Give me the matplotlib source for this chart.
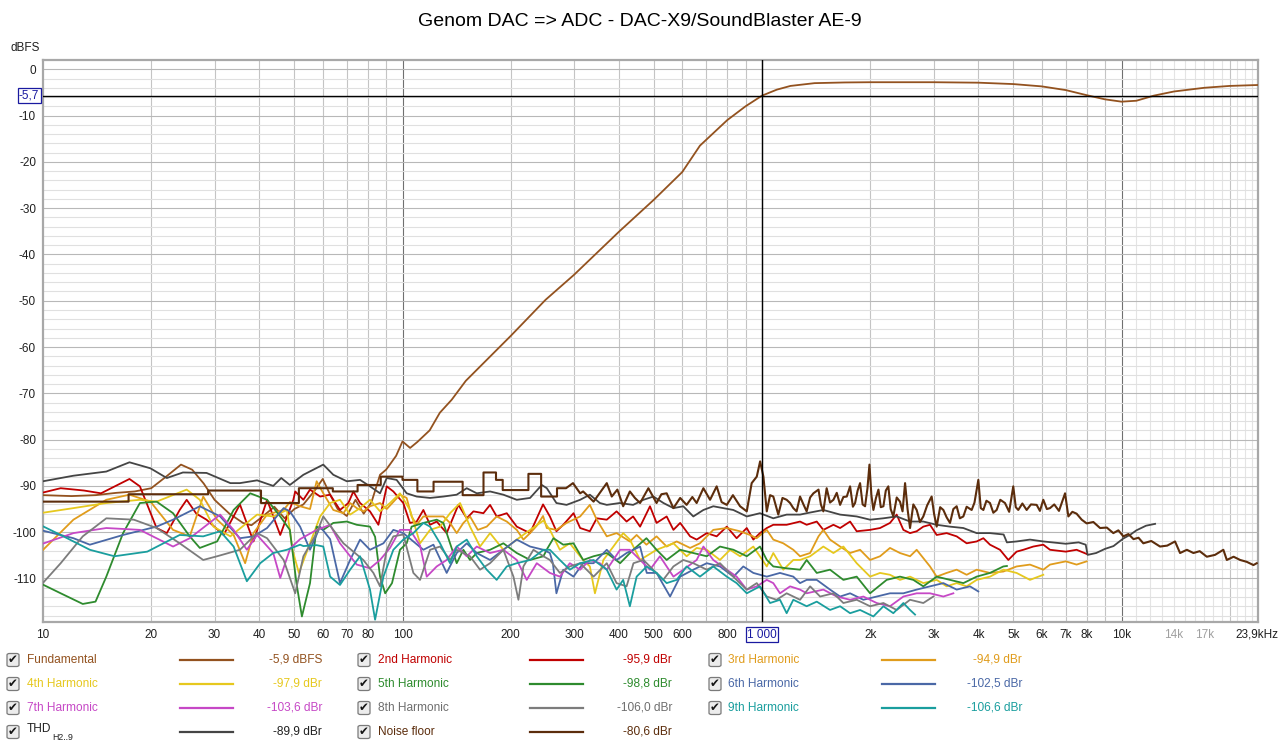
import numpy as np
import matplotlib.pyplot as plt
from matplotlib.lines import Line2D
from matplotlib.patches import FancyBboxPatch

plt.rcParams['font.family'] = ['Liberation Sans', 'DejaVu Sans']

W, H = 1280, 746

# ---- measured curves: (frequency Hz, level dB) ----
fund = [(10, -92.0), (12, -92.2), (14, -92.0), (16, -91.5), (18, -91.2), (20, -90.5), (22, -88.0),
        (24.2, -85.4), (26, -86.5), (28, -89.5), (30, -93.0), (33, -96.0), (36, -98.0), (38, -98.5),
        (41, -96.5), (44, -94.5), (47, -97.0), (50, -95.0), (53, -94.0), (57, -91.0), (60, -88.5),
        (63, -92.0), (66, -95.0), (70, -96.5), (74, -93.0), (78, -96.0), (82, -93.5), (86.6, -87.6),
        (90, -86.5), (92, -85.5), (96, -83.5), (100, -80.4), (105, -81.8), (110, -80.5), (119, -78.0),
        (127, -74.2), (137, -71.4), (150, -67.3), (200, -57.6), (250, -49.8), (300, -44.4), (400, -35.1),
        (500, -28.2), (600, -22.2), (672, -16.5), (800, -11.0), (900, -8.0), (1000, -5.7), (1100, -4.4),
        (1200, -3.6), (1400, -3.0), (1700, -2.85), (2000, -2.8), (3000, -2.8), (4000, -2.9), (5000, -3.2),
        (6000, -3.7), (7000, -4.5), (8000, -5.6), (9000, -6.5), (10000, -7.0), (11000, -6.8),
        (12300, -5.7), (14000, -4.8), (17000, -4.0), (20000, -3.6), (23970, -3.4)]

h2 = [(9.8, -91.6), (11.2, -90.5), (13.0, -91.0), (14.5, -91.6), (17.4, -88.5), (18.6, -90.1),
      (20.7, -99.1), (22.1, -100.2), (24, -95.2), (25.1, -93.0), (26.7, -96.0), (28.5, -97.3),
      (31.8, -100.6), (35.3, -94.0), (38.5, -102.0), (42, -93.0), (45.7, -100.6), (49.7, -93.0),
      (50.3, -91.2), (53, -93.0), (55.3, -90.8), (59, -92.3), (62.9, -91.9), (67, -95.2), (70.7, -93.7),
      (73, -91.2), (76.2, -93.7), (81.2, -95.5), (85.7, -98.4), (90.4, -90.1), (94.3, -91.2),
      (100.5, -93.7), (104.9, -98.0), (109.5, -97.7), (114.3, -95.2), (119.3, -98.4), (124.5, -97.7),
      (132.7, -100.2), (143, -94.1), (150.9, -97.0), (157.5, -95.5), (167.9, -95.9), (175.2, -94.1),
      (182.8, -96.6), (195, -95.9), (207.9, -98.8), (216.9, -99.5), (226.4, -100.2), (236.3, -97.0),
      (246, -94.0), (257, -96.6), (268, -99.8), (280, -98.4), (299, -95.9), (312, -99.1), (332, -99.8),
      (347, -97.0), (370, -97.3), (394, -95.5), (420, -97.7), (438, -96.6), (458, -98.8), (488, -94.4),
      (509, -98.0), (543, -96.6), (567, -99.5), (592, -98.0), (631, -100.9), (658, -101.6),
      (702, -100.2), (748, -100.9), (798, -98.8), (850, -101.3), (907, -99.1), (946, -101.6),
      (987, -100.2), (1031, -99.1), (1075, -98.4), (1171, -98.4), (1276, -97.7), (1331, -98.4),
      (1420, -97.7), (1481, -99.5), (1580, -98.4), (1649, -99.1), (1758, -97.7), (1834, -99.8),
      (1998, -99.5), (2130, -99.1), (2270, -98.0), (2369, -96.2), (2473, -99.5), (2581, -100.2),
      (2693, -99.8), (2810, -98.8), (2933, -98.4), (3061, -100.6), (3263, -100.2), (3479, -100.9),
      (3709, -102.4), (3955, -102.0), (4128, -101.3), (4307, -102.7), (4592, -103.8), (4844, -106.0),
      (5107, -104.2), (5332, -103.8), (5684, -103.1), (6060, -102.7), (6326, -103.8), (7000, -104.2),
      (7500, -103.8), (8000, -104.7)]

h3 = [(9.8, -104.5), (12.15, -97.3), (15, -93.0), (17.4, -91.9), (19.9, -93.4), (23, -99.5),
      (25.6, -100.9), (27.9, -92.3), (30.5, -97.3), (33.9, -100.6), (36.5, -106.7), (38.5, -100.2),
      (42, -96.2), (46.7, -95.2), (48.6, -93.5), (51.9, -94.4), (55.3, -95.0), (57.7, -89.0),
      (60.2, -91.6), (64.2, -95.2), (68.5, -95.9), (71.5, -93.7), (74.6, -94.8), (78, -95.5),
      (81.2, -94.4), (86.6, -93.7), (90.4, -95.0), (98.4, -91.9), (102.7, -92.6), (106, -96.6),
      (109.5, -98.4), (114.3, -96.6), (121.9, -96.6), (129.9, -96.6), (135.6, -98.0), (141.5, -100.2),
      (147.7, -98.0), (154.1, -96.6), (162, -99.5), (171.5, -98.8), (182.8, -96.6), (195, -97.7),
      (207.9, -99.5), (216.9, -101.6), (226.4, -100.2), (236.3, -98.6), (246, -96.5), (252, -99.1),
      (268, -99.5), (286, -98.0), (312, -96.6), (332, -94.1), (347, -97.3), (370, -100.9), (394, -100.2),
      (429, -102.0), (448, -100.6), (477, -102.7), (509, -100.9), (543, -103.1), (579, -102.0),
      (631, -103.4), (672, -102.4), (732, -99.5), (798, -99.1), (868, -99.8), (926, -100.6),
      (966, -101.3), (1031, -99.5), (1075, -101.6), (1146, -102.4), (1222, -103.8), (1276, -105.2),
      (1361, -104.5), (1436, -100.9), (1481, -99.5), (1546, -101.6), (1649, -103.1), (1758, -104.5),
      (1874, -103.8), (1998, -106.0), (2130, -105.2), (2270, -103.4), (2420, -104.5), (2581, -105.2),
      (2693, -103.8), (2933, -107.4), (3061, -109.6), (3263, -108.8), (3479, -108.1), (3709, -109.2),
      (3955, -108.1), (4307, -108.8), (4691, -108.5), (5107, -107.4), (5564, -107.0), (6060, -108.1),
      (6326, -107.0), (7000, -106.3), (7500, -107.0), (8000, -106.3)]

h4 = [(9.8, -95.9), (12.15, -94.8), (15, -93.7), (18.6, -93.0), (20.7, -93.4), (25.1, -90.8),
      (27.3, -93.0), (29.8, -98.8), (33.2, -100.9), (36.9, -98.0), (39.4, -96.2), (43.7, -96.6),
      (47.7, -95.2), (49.5, -104.0), (51.5, -108.8), (55.3, -102.4), (59, -96.6), (62.9, -93.7),
      (67, -93.0), (71.5, -96.2), (76.2, -94.8), (81.2, -93.0), (86.6, -95.5), (92.3, -93.7),
      (98.4, -91.6), (104.9, -95.2), (111.9, -102.4), (119.3, -99.5), (127.2, -98.8), (135.6, -95.9),
      (144.6, -93.7), (154.1, -98.8), (164.3, -103.1), (175.2, -100.2), (190.8, -103.8),
      (207.9, -101.6), (226.4, -99.5), (246.6, -97.5), (257, -99.5), (274, -103.8), (292, -102.4),
      (318, -106.0), (332, -107.4), (343, -113.2), (362, -106.0), (386, -103.1), (411, -100.2),
      (429, -101.6), (458, -106.0), (509, -103.8), (567, -102.4), (617, -105.2), (658, -103.4),
      (702, -103.8), (764, -106.0), (815, -103.8), (869, -105.2), (946, -103.1), (1031, -107.4),
      (1075, -104.5), (1146, -108.1), (1222, -106.0), (1276, -106.0), (1361, -105.2), (1481, -103.1),
      (1580, -104.5), (1684, -103.1), (1834, -106.7), (1998, -109.6), (2130, -108.8), (2270, -109.2),
      (2420, -110.3), (2581, -109.6), (2810, -111.0), (3061, -110.3), (3263, -111.7), (3479, -111.0),
      (3709, -111.7), (3955, -110.3), (4307, -109.6), (4691, -108.1), (5107, -108.8), (5564, -110.3),
      (6060, -109.2)]

h5 = [(9.8, -111.0), (11.2, -113.2), (12.9, -115.5), (14.0, -115.0), (15, -109.6), (16.7, -100.2),
      (18.6, -93.7), (20.7, -93.4), (23, -95.9), (25.6, -100.9), (27.3, -103.4), (30.5, -102.0),
      (33.9, -95.2), (37.7, -91.6), (42, -93.0), (45.7, -96.6), (48.6, -99.5), (50.7, -111.0),
      (52.5, -118.2), (55.3, -111.0), (57.7, -98.8), (60.2, -99.5), (64.2, -98.0), (70, -97.7),
      (74.6, -98.4), (81.2, -98.8), (83.9, -101.0), (86.6, -109.6), (89.5, -113.2), (93.5, -111.0),
      (98.4, -103.8), (102.7, -102.4), (106, -98.8), (114.3, -98.0), (124.5, -97.3), (129.9, -98.0),
      (135.6, -102.4), (141.5, -106.7), (147.7, -103.8), (154.1, -106.0), (160.9, -104.5),
      (175.2, -103.8), (190.8, -102.4), (207.9, -104.5), (226.4, -106.0), (246.6, -105.2),
      (253, -103.5), (263, -101.3), (280, -102.7), (299, -102.4), (318, -106.0), (340, -105.2),
      (370, -104.5), (403, -106.7), (438, -103.8), (477, -101.3), (509, -103.8), (543, -106.0),
      (592, -103.8), (644, -104.5), (702, -105.2), (764, -103.1), (833, -103.8), (907, -105.2),
      (987, -103.1), (1031, -106.0), (1075, -107.4), (1171, -107.8), (1276, -108.1), (1331, -106.0),
      (1420, -108.8), (1546, -108.1), (1684, -110.3), (1834, -109.6), (1998, -113.2), (2222, -110.3),
      (2420, -109.6), (2636, -110.3), (2810, -111.7), (3061, -109.6), (3334, -110.3), (3631, -111.0),
      (3955, -109.6), (4307, -108.8), (4691, -107.4), (4800, -107.3)]

h6 = [(9.8, -99.5), (12.15, -101.3), (13.5, -102.7), (16.7, -100.6), (20.7, -98.8), (23, -97.3),
      (27.3, -94.4), (31.1, -96.6), (35.3, -101.3), (38.5, -100.9), (42, -99.1), (46.7, -94.8),
      (48.6, -95.5), (51.9, -98.8), (55.3, -103.8), (59, -98.8), (62.9, -101.5), (67, -111.0),
      (71.5, -106.0), (76.2, -101.6), (81.2, -103.8), (88.5, -102.4), (94.3, -99.5), (100.5, -100.2),
      (107.2, -102.0), (114.3, -103.8), (121.9, -102.7), (132.7, -108.8), (141.5, -104.5),
      (150.9, -102.4), (160.9, -104.5), (175.2, -106.0), (190.8, -103.8), (207.9, -101.6),
      (226.4, -103.1), (246.6, -103.8), (257, -104.5), (262, -106.7), (268, -113.2), (280, -108.1),
      (299, -109.6), (318, -106.7), (340, -106.7), (370, -103.8), (394, -106.0), (420, -104.5),
      (458, -103.1), (478, -108.8), (509, -108.8), (555, -113.9), (592, -109.6), (644, -108.1),
      (702, -106.7), (764, -107.4), (833, -109.6), (887, -107.4), (946, -108.8), (1031, -109.6),
      (1122, -108.8), (1222, -109.6), (1276, -111.0), (1331, -110.3), (1420, -110.3), (1546, -112.4),
      (1649, -113.9), (1758, -113.2), (1914, -114.6), (2085, -113.9), (2270, -113.2), (2473, -113.2),
      (2693, -112.4), (2933, -111.7), (3195, -111.0), (3479, -112.4), (3789, -111.7), (3997, -112.8)]

h7 = [(9.8, -102.7), (12.15, -100.2), (15, -99.1), (18.6, -99.5), (23, -103.1), (25.6, -101.3),
      (31.1, -96.2), (33.9, -99.5), (36.9, -103.8), (39.4, -100.6), (43.7, -104.5), (45.7, -109.9),
      (48.7, -103.5), (51.9, -101.5), (57.7, -99.5), (62.9, -98.4), (67, -102.4), (74.6, -107.0),
      (81.2, -107.8), (86.6, -106.0), (92.3, -103.4), (98.4, -99.5), (104.9, -99.5), (111.9, -102.9),
      (116.8, -109.6), (124.5, -107.4), (132.7, -106.0), (141.5, -103.1), (150.9, -105.2),
      (160.9, -103.1), (175.2, -104.5), (190.8, -103.8), (207.9, -106.0), (221.6, -110.3),
      (236.3, -106.7), (257, -108.8), (274, -109.6), (292, -106.7), (312, -108.1), (332, -106.0),
      (354, -106.7), (370, -108.1), (403, -103.8), (429, -103.8), (458, -106.0), (488, -108.1),
      (520, -105.2), (567, -109.6), (604, -108.1), (658, -106.0), (687, -103.1), (732, -106.0),
      (798, -108.1), (850, -109.6), (907, -112.4), (967, -111.7), (1031, -110.3), (1075, -111.0),
      (1122, -113.2), (1197, -111.7), (1276, -112.4), (1331, -113.2), (1481, -112.4), (1614, -113.9),
      (1758, -114.6), (1914, -113.9), (2085, -115.3), (2270, -116.0), (2473, -113.9), (2693, -113.2),
      (2933, -113.2), (3195, -113.9), (3406, -113.2)]

h8 = [(9.8, -111.7), (11.2, -106.7), (12.9, -100.9), (15, -97.0), (17.9, -97.3), (20.7, -99.1),
      (24, -102.4), (27.9, -106.0), (30.5, -105.2), (35.3, -103.8), (39.4, -100.2), (42, -101.3),
      (46.7, -106.0), (50.3, -113.2), (53, -105.2), (57.7, -100.2), (60.2, -96.6), (64.2, -99.5),
      (68.5, -102.4), (73, -104.2), (77.8, -106.0), (83, -108.8), (86.6, -111.7), (90.4, -103.8),
      (94.3, -100.9), (100.5, -100.5), (107.2, -108.8), (111.9, -110.3), (119.3, -103.8),
      (127.2, -103.1), (135.6, -106.0), (141.5, -103.8), (154.1, -105.2), (164.3, -108.1),
      (175.2, -106.7), (190.8, -103.8), (203.5, -109.6), (210.1, -114.6), (216.9, -107.4),
      (231.3, -103.8), (246.6, -105.2), (257, -106.0), (274, -108.8), (292, -107.4), (312, -106.7),
      (340, -109.6), (370, -106.7), (394, -111.0), (420, -111.7), (439, -106.7), (468, -106.0),
      (498, -108.1), (531, -110.3), (567, -107.4), (604, -106.0), (644, -106.7), (702, -108.1),
      (764, -106.7), (832, -109.6), (868, -111.0), (907, -112.4), (967, -111.0), (1031, -113.9),
      (1098, -114.6), (1171, -113.2), (1276, -114.6), (1361, -111.7), (1451, -113.9), (1580, -113.2),
      (1684, -115.3), (1834, -114.6), (1998, -116.0), (2176, -115.3), (2369, -116.8), (2581, -114.6),
      (2810, -115.3), (2996, -113.9)]

h9 = [(9.8, -98.4), (11.2, -100.6), (13.5, -103.8), (15.8, -105.2), (19.5, -104.2), (24, -100.6),
      (27.9, -100.9), (31.1, -99.8), (33.9, -103.1), (36.9, -110.6), (40.2, -106.7), (43.7, -104.5),
      (47.7, -103.8), (51.9, -102.7), (53, -103.0), (57.7, -102.8), (60.2, -103.1), (62.9, -109.6),
      (67, -111.4), (71.5, -108.1), (76.2, -105.2), (81.2, -112.4), (83.9, -118.9), (88.5, -109.6),
      (94.3, -103.8), (100.5, -101.6), (107.2, -100.2), (114.3, -98.0), (119.3, -98.8),
      (127.2, -102.4), (135.6, -106.7), (141.5, -103.1), (150.9, -101.6), (160.9, -105.2),
      (171.5, -108.1), (182.8, -110.3), (195, -107.4), (207.9, -106.7), (226.4, -106.0),
      (246.6, -103.8), (257, -103.8), (274, -106.0), (292, -108.1), (312, -106.7), (340, -106.0),
      (370, -108.1), (394, -112.4), (411, -110.3), (429, -116.0), (448, -109.6), (478, -107.4),
      (509, -108.8), (543, -111.0), (579, -110.3), (617, -107.4), (672, -109.6), (732, -107.4),
      (798, -109.6), (850, -111.0), (907, -113.2), (987, -111.7), (1053, -115.3), (1122, -114.6),
      (1171, -117.5), (1222, -114.6), (1276, -115.3), (1331, -116.0), (1420, -115.0), (1546, -116.8),
      (1649, -116.0), (1758, -117.5), (1874, -116.8), (2041, -118.2), (2176, -116.0), (2319, -117.5),
      (2473, -115.3), (2581, -116.8), (2665, -117.8)]

thd = [(10, -89.0), (12.15, -87.8), (15.0, -86.9), (17.4, -84.9), (19.9, -86.2), (22.1, -88.3),
       (24.5, -87.1), (28.5, -87.2), (33.2, -89.4), (35.3, -89.4), (39.4, -88.8), (43.7, -90.0),
       (46, -88.3), (48.6, -89.8), (53, -87.6), (60.2, -85.4), (64.2, -87.6), (70, -89.0),
       (76.2, -88.7), (81.2, -90.1), (86.6, -91.6), (90.4, -88.3), (96.3, -88.7), (102.7, -91.6),
       (109.5, -92.3), (119.3, -92.6), (129.9, -92.3), (141.5, -91.9), (150.9, -90.5), (160.9, -91.6),
       (175.2, -91.2), (190.8, -91.9), (207.9, -93.0), (226.4, -92.6), (244, -89.8), (252, -90.5),
       (268, -93.7), (286, -94.1), (312, -93.0), (332, -91.9), (354, -93.7), (370, -94.1),
       (402, -93.7), (438, -94.1), (468, -93.0), (499, -92.3), (532, -93.7), (567, -94.8),
       (604, -94.4), (644, -96.6), (687, -95.2), (732, -94.4), (780, -94.8), (832, -95.2),
       (907, -96.6), (987, -95.9), (1075, -97.0), (1171, -96.2), (1276, -96.2), (1331, -95.9),
       (1481, -95.2), (1649, -96.2), (1834, -96.6), (1998, -97.3), (2176, -97.0), (2369, -96.6),
       (2581, -97.7), (2810, -97.7), (3061, -98.4), (3334, -98.8), (3631, -99.1), (3955, -100.2),
       (4307, -100.2), (4700, -100.5), (4800, -102.2), (5107, -102.0), (5564, -101.6), (6060, -102.0),
       (7000, -102.5), (7600, -102.2), (7950, -102.7), (8050, -104.9), (8500, -104.5), (9000, -103.6),
       (9500, -103.0), (10100, -101.4), (10600, -100.5), (11000, -99.6), (11700, -98.6),
       (12400, -98.2)]

noise = [(10, -93.4), (17.3, -93.4), (17.3, -91.8), (28.8, -91.8), (28.8, -91.0), (40.4, -91.0),
         (40.4, -93.7), (51.5, -93.7), (51.5, -90.5), (64, -90.5), (64, -91.2), (75, -91.2),
         (75, -89.8), (87, -89.8), (87, -88.0), (100, -88.0), (100, -88.7), (110, -88.7),
         (110, -91.2), (122, -91.2), (122, -89.1), (147, -89.1), (147, -92.0), (168, -92.0),
         (168, -87.1), (182, -87.1), (182, -88.7), (190, -88.7), (190, -90.9), (224, -90.9),
         (224, -87.4), (243, -87.4), (243, -92.3), (269, -92.3), (269, -90.5), (285, -90.5),
         (298, -89.4), (312, -91.6), (318, -91.2), (340, -93.4), (370, -89.4), (382, -92.3),
         (396, -90.8), (411, -94.4), (429, -91.2), (443, -92.6), (458, -93.7), (483, -90.5),
         (509, -93.7), (525, -91.8), (543, -91.6), (567, -94.8), (592, -92.6), (617, -94.1),
         (640, -92.4), (658, -93.7), (687, -90.5), (717, -93.0), (748, -90.1), (772, -93.5),
         (798, -94.1), (830, -92.0), (869, -94.4), (907, -95.5), (936, -89.4), (967, -88.0),
         (988, -84.7), (1009, -88.0), (1031, -95.5), (1053, -92.0), (1075, -92.3), (1110, -96.2),
         (1140, -92.6), (1171, -93.0), (1197, -93.7), (1222, -94.8), (1248, -95.5), (1276, -92.3),
         (1304, -94.0), (1331, -95.5), (1361, -92.5), (1390, -91.6), (1436, -90.8), (1458, -94.0),
         (1481, -95.5), (1513, -90.5), (1546, -93.6), (1580, -93.0), (1614, -91.5), (1649, -94.1),
         (1684, -92.4), (1721, -92.3), (1758, -90.1), (1790, -94.5), (1815, -93.7), (1845, -91.0),
         (1874, -89.4), (1905, -94.0), (1935, -94.4), (1965, -90.5), (1990, -85.4), (2015, -92.0),
         (2041, -95.2), (2075, -92.6), (2108, -90.8), (2140, -94.6), (2176, -94.4), (2210, -91.0),
         (2246, -90.1), (2280, -95.0), (2319, -96.6), (2370, -92.5), (2420, -93.4), (2460, -95.5),
         (2500, -89.4), (2540, -95.0), (2581, -99.1), (2636, -94.0), (2693, -95.2), (2750, -97.8),
         (2810, -96.6), (2880, -94.2), (2964, -92.3), (3010, -96.0), (3061, -98.8), (3130, -94.6),
         (3195, -95.2), (3263, -96.8), (3334, -98.0), (3406, -95.0), (3479, -94.4), (3550, -97.0),
         (3631, -96.6), (3709, -94.5), (3830, -95.2), (3900, -93.6), (3997, -88.7), (4060, -94.8),
         (4128, -95.2), (4210, -93.2), (4307, -93.7), (4400, -95.8), (4495, -95.2), (4600, -93.0),
         (4741, -93.7), (4870, -95.6), (4999, -90.1), (5080, -94.6), (5162, -95.2), (5300, -93.8),
         (5447, -95.2), (5600, -94.0), (5807, -94.1), (5930, -95.4), (6060, -93.0), (6200, -95.0),
         (6326, -94.8), (6500, -94.0), (6700, -95.4), (6966, -91.6), (7115, -96.6), (7300, -95.6),
         (7500, -96.0), (7750, -97.3), (8000, -98.1), (8350, -97.8), (8717, -99.1), (9100, -99.0),
         (9490, -100.2), (9800, -99.6), (10120, -100.9), (10450, -100.4), (10800, -101.5),
         (11150, -101.2), (11500, -102.4), (12100, -101.9), (12800, -103.1), (13400, -102.9),
         (14090, -102.0), (14550, -104.5), (15200, -103.8), (15850, -104.5), (16500, -104.1),
         (17270, -105.3), (18200, -104.9), (19200, -103.8), (19630, -106.0), (20500, -105.3),
         (21380, -106.0), (22300, -106.4), (23280, -107.1), (23780, -106.7)]

series = [
    ('Fundamental', fund, '#93521f', '-5,9 dBFS', 1.3),
    ('2nd Harmonic', h2, '#c00000', '-95,9 dBr', 1.3),
    ('3rd Harmonic', h3, '#e09c1c', '-94,9 dBr', 1.3),
    ('4th Harmonic', h4, '#e6c81e', '-97,9 dBr', 1.3),
    ('5th Harmonic', h5, '#2e8b2e', '-98,8 dBr', 1.3),
    ('6th Harmonic', h6, '#4a68a6', '-102,5 dBr', 1.3),
    ('7th Harmonic', h7, '#c648c6', '-103,6 dBr', 1.3),
    ('8th Harmonic', h8, '#7c7c7c', '-106,0 dBr', 1.3),
    ('9th Harmonic', h9, '#1a9e9e', '-106,6 dBr', 1.3),
    ('THD', thd, '#454545', '-89,9 dBr', 1.3),
    ('Noise floor', noise, '#5c2d0c', '-80,6 dBr', 1.5),
]

xticks = [10, 20, 30, 40, 50, 60, 70, 80, 100, 200, 300, 400, 500, 600, 800,
          2000, 3000, 4000, 5000, 6000, 7000, 8000, 10000, 14000, 17000]
xlabels = ['10', '20', '30', '40', '50', '60', '70', '80', '100', '200', '300', '400', '500',
           '600', '800', '2k', '3k', '4k', '5k', '6k', '7k', '8k', '10k', '14k', '17k']
yticks = [0, -10, -20, -30, -40, -50, -60, -70, -80, -90, -100, -110]
cursor_f, cursor_db = 1000, -5.7
fmax = 23970

fig = plt.figure(figsize=(W / 100, H / 100), dpi=100)
ax = fig.add_axes([43 / W, 1 - 622 / H, (1258 - 43) / W, (622 - 60) / H])
ax.set_xscale('log')
ax.set_xlim(10, fmax)
ax.set_ylim(-119.4, 2.0)

# grid
for d in [10, 100, 1000, 10000]:
    for m in range(1, 10):
        f = m * d
        if f <= 10 or f >= fmax:
            continue
        c = '#707070' if m == 1 else '#c4c4c4'
        ax.axvline(f, color=c, lw=0.8, zorder=0)
for f in list(range(11000, 20000, 1000)) + list(range(21000, 24000, 1000)):
    ax.axvline(f, color='#e4e4e4', lw=0.8, zorder=0)
for y in range(-118, 2, 2):
    if y % 10 == 0:
        ax.axhline(y, color='#b8b8b8', lw=0.8, zorder=0)
    else:
        ax.axhline(y, color='#e0e0e0', lw=0.8, zorder=0)

for name, data, col, val, lw in series:
    d = np.array(data)
    ax.plot(d[:, 0], d[:, 1], color=col, lw=lw, zorder=3)

# cursors
ax.axvline(cursor_f, color='black', lw=1.0, zorder=4)
ax.axhline(cursor_db, color='black', lw=1.0, zorder=4)

ax.set_xticks(xticks)
ax.set_xticklabels(xlabels)
ax.set_xticks([], minor=True)
ax.set_yticks(yticks)
ax.set_yticklabels([str(v) for v in yticks])
ax.tick_params(length=0, labelsize=8.5, colors='#202020', pad=5)
for lab in ax.get_xticklabels():
    if lab.get_text() in ('14k', '17k'):
        lab.set_color('#a0a0a0')
ax.text(fmax * 0.995, -0.012, '23,9kHz', ha='center', va='top', fontsize=8.5,
        transform=ax.get_xaxis_transform(), color='#202020')
for sp in ax.spines.values():
    sp.set_color('#a8a8a8')
    sp.set_linewidth(1.6)

ax.text(-0.003, cursor_db, '-5,7', transform=ax.get_yaxis_transform(), ha='right', va='center',
        fontsize=8.5, color='#1a1aa0',
        bbox=dict(boxstyle='square,pad=0.12', fc='white', ec='#1a1aa0', lw=0.9))
ax.text(cursor_f, -0.012, '1 000', transform=ax.get_xaxis_transform(), ha='center', va='top',
        fontsize=8.5, color='#1a1aa0',
        bbox=dict(boxstyle='square,pad=0.12', fc='white', ec='#1a1aa0', lw=0.9))

fig.text(25 / W, 1 - 48 / H, 'dBFS', ha='center', va='center', fontsize=8.5, color='#202020')
fig.text(640 / W, 1 - 22 / H, 'Genom DAC => ADC - DAC-X9/SoundBlaster AE-9',
         ha='center', va='center', fontsize=14, color='black')

# legend block
col_x = [(13, 27, 180, 233, 322), (364, 378, 530, 583, 672), (715, 728, 882, 935, 1022)]
row_y = [660, 684, 708, 732]
order = [(0, 0, 0), (1, 0, 1), (2, 0, 2), (3, 1, 0), (4, 1, 1), (5, 1, 2),
         (6, 2, 0), (7, 2, 1), (8, 2, 2), (9, 3, 0), (10, 3, 1)]
label_cols = {'THD': '#202020', 'Noise floor': '#5c2d0c', '8th Harmonic': '#6e6e6e'}
for i, r, c in order:
    name, data, col, val, lw = series[i]
    cbx, lx, l0, l1, vx = col_x[c]
    y = 1 - row_y[r] / H
    fig.patches.append(FancyBboxPatch(((cbx - 6) / W, y - 6.5 / H), 12 / W, 13 / H,
                                      boxstyle='round,pad=0,rounding_size=0.002',
                                      transform=fig.transFigure, fc='#ececec', ec='#7a7a7a', lw=0.9))
    fig.text(cbx / W, y, '\u2714', ha='center', va='center', fontsize=8.5, color='#151515',
             family='DejaVu Sans')
    tc = label_cols.get(name, col)
    if name == 'THD':
        fig.text(lx / W, y + 3 / H, 'THD', ha='left', va='center', fontsize=8.6, color=tc)
        fig.text((lx + 25) / W, y - 5 / H, 'H2..9', ha='left', va='center', fontsize=6.3, color=tc)
    else:
        fig.text(lx / W, y, name, ha='left', va='center', fontsize=8.6, color=tc)
    fig.add_artist(Line2D([l0 / W, l1 / W], [y, y], color=col, lw=1.6, transform=fig.transFigure))
    fig.text(vx / W, y, val, ha='right', va='center', fontsize=8.6, color=tc)

fig.savefig('out.png', dpi=100, facecolor='white')
